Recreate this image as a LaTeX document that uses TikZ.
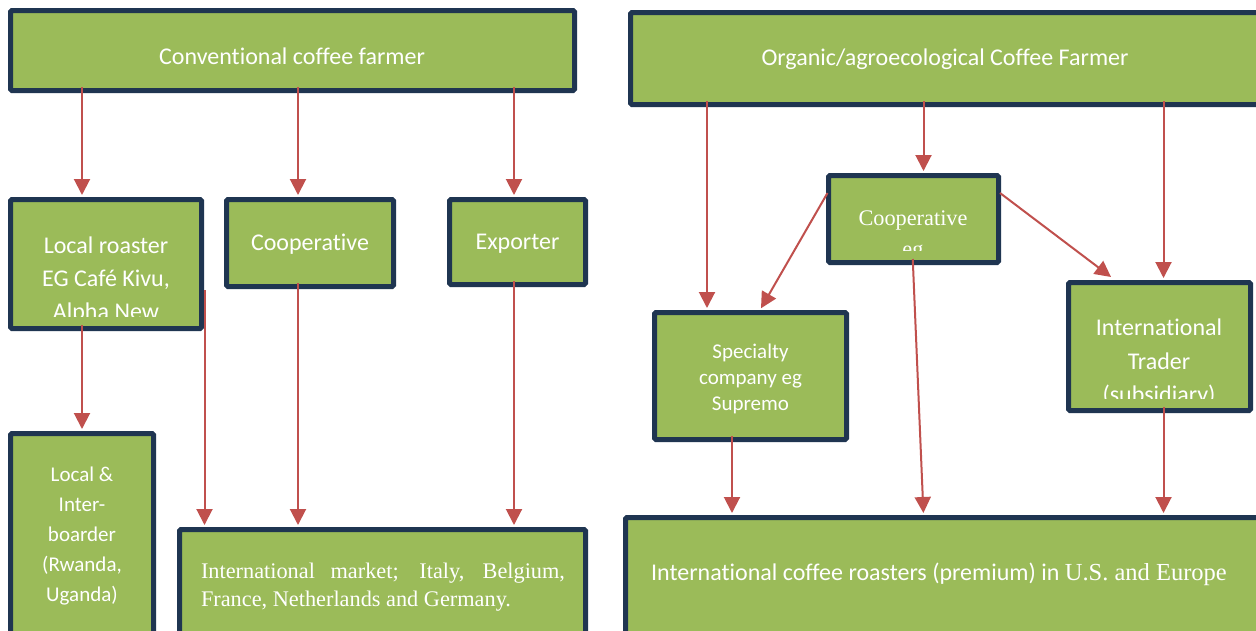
\documentclass[tikz,border=0pt]{standalone}
\usepackage{fontspec}
\setmainfont{Carlito}[Ligatures=NoCommon,RawFeature={-liga;-calt;-clig}]
\newfontfamily\serifcam{Liberation Serif}
\usetikzlibrary{arrows.meta,calc}
\definecolor{boxgreen}{HTML}{9BBB59}
\definecolor{boxedge}{HTML}{1F3551}
\definecolor{arrowred}{HTML}{C0504D}
\begin{document}
\begin{tikzpicture}[x=1pt,y=-1pt,
  box/.style={draw=boxedge,fill=boxgreen,line width=5pt,rounded corners=1.5pt,inner sep=0pt},
  lbl/.style={text=white,align=center,inner sep=0pt},
  big/.style={font=\fontsize{24}{33}\selectfont},
  arr/.style={draw=arrowred,line width=2pt,shorten >=2pt,shorten <=-6pt,
    -{Triangle[length=16pt,width=16pt]}}]
\clip (0,0) rectangle (1256,630);
\fill[white] (0,0) rectangle (1256,630);

% boxes
\node[box,minimum width=564pt,minimum height=80pt] (A) at (292.5,50.5) {};
\node[box,minimum width=629pt,minimum height=92pt] (B) at (945,58.5) {};
\node[box,minimum width=191pt,minimum height=129pt] (C) at (106,264) {};
\node[box,minimum width=167pt,minimum height=87pt] (D) at (310,243) {};
\node[box,minimum width=136pt,minimum height=85pt] (E) at (517.5,242) {};
\node[box,minimum width=143pt,minimum height=254pt] (F) at (82,560.5) {};
\node[box,minimum width=406pt,minimum height=158pt] (G) at (382.5,608.5) {};
\node[box,minimum width=170pt,minimum height=87pt] (H) at (913.5,219) {};
\node[box,minimum width=192pt,minimum height=127pt] (I) at (750.5,376) {};
\node[box,minimum width=182pt,minimum height=128pt] (J) at (1159.5,346.5) {};
\node[box,minimum width=634pt,minimum height=170pt] (K) at (942.5,602.5) {};

% texts
\node[lbl,big] (At) at (292,56) {Conventional coffee farmer};
\node[lbl,big] (Bt) at (945,59) {Organic/agroecological Coffee Farmer};
\begin{scope}
  \clip (13,202) rectangle (199,316);
  \node[lbl,font=\fontsize{24}{33}\selectfont] (Ct) at (106,280) {Local roaster\\EG Café Kivu,\\Alpha New};
\end{scope}
\node[lbl,big] (Dt) at (310,244) {Cooperative};
\node[lbl,big] (Et) at (517.5,244) {Exporter};
\node[lbl,font=\fontsize{21}{30}\selectfont] (Ft) at (82,536) {Local \&\\Inter-\\boarder\\(Rwanda,\\Uganda)};
\node[lbl,align=left,font=\serifcam\fontsize{22.3}{28}\selectfont] (Gt) at (383,587)
  {\makebox[364pt][s]{International market; Italy, Belgium,}\\France, Netherlands and Germany.};
\begin{scope}
  \clip (828,176) rectangle (998,250);
  \node[lbl,font=\serifcam\fontsize{22.3}{31}\selectfont] (Ht) at (913,236) {Cooperative\\eg};
\end{scope}
\node[lbl,font=\fontsize{21}{26}\selectfont] (It) at (750.5,379) {Specialty\\company eg\\Supremo};
\begin{scope}
  \clip (1069,283) rectangle (1250,398);
  \node[lbl,font=\fontsize{24}{33.5}\selectfont] (Jt) at (1159,363) {International\\Trader\\(subsidiary)};
\end{scope}
\node[lbl,big] (Kt) at (939,574) {International coffee roasters (premium) in {\serifcam\fontsize{24.5}{30}\selectfont U.S. and Europe}};

% x positions
\coordinate (x82) at (82,0);
\coordinate (x298) at (298,0);
\coordinate (x514) at (514,0);
\coordinate (x707) at (707,0);
\coordinate (x923) at (923.5,0);
\coordinate (x1163) at (1163.5,0);
\coordinate (x760) at (760,0);
\coordinate (x732) at (732,0);
\coordinate (x1115) at (1115,0);
\coordinate (cg) at ($(C.east)+(0.5,26)$);
\coordinate (hw) at ($(H.west)+(1.5,-26)$);
\coordinate (he) at ($(H.east)+(-1,-26)$);
\coordinate (hs) at ($(H.south)+(-0.5,0)$);

% connectors
\draw[arr] (x82 |- A.south) -- (x82 |- C.north);
\draw[arr] (x298 |- A.south) -- (x298 |- D.north);
\draw[arr] (x514 |- A.south) -- (x514 |- E.north);
\draw[arr] (x82 |- C.south) -- (x82 |- F.north);
\draw[arr,shorten <=0pt] (cg) -- (cg |- G.north);
\draw[arr] (x298 |- D.south) -- (x298 |- G.north);
\draw[arr] (x514 |- E.south) -- (x514 |- G.north);
\draw[arr] (x707 |- B.south) -- (x707 |- I.north);
\draw[arr] (x923 |- B.south) -- (x923 |- H.north);
\draw[arr] (x1163 |- B.south) -- (x1163 |- J.north);
\draw[arr,shorten <=0pt] (hw) -- (x760 |- I.north);
\draw[arr,shorten <=0pt,shorten >=5pt] (he) -- (x1115 |- J.north);
\draw[arr] (x732 |- I.south) -- (x732 |- K.north);
\draw[arr] (hs) -- (x923 |- K.north);
\draw[arr] (x1163 |- J.south) -- (x1163 |- K.north);
\end{tikzpicture}
\end{document}
